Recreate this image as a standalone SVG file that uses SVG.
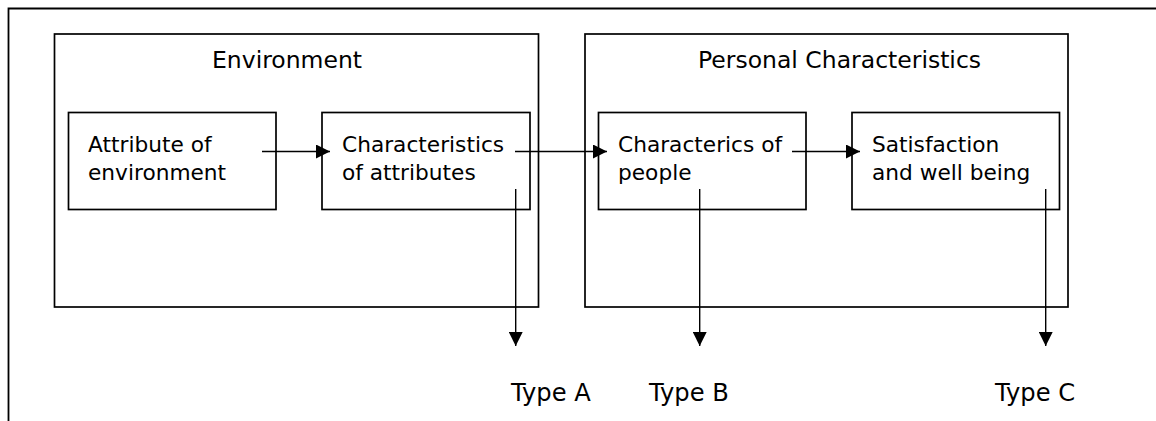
<svg xmlns="http://www.w3.org/2000/svg" width="1156" height="421" viewBox="0 0 1156 421">
  <style>
    .box { fill: none; stroke: #000; stroke-width: 1.7; }
    .frame { fill: none; stroke: #000; stroke-width: 1.8; }
    .link { fill: none; stroke: #000; stroke-width: 1.4; }
    .lbl { font-family: "DejaVu Sans", sans-serif; font-size: 21.7px; fill: #000; }
    .ttl { font-family: "DejaVu Sans", sans-serif; font-size: 23.5px; fill: #000; }
    .typ { font-family: "DejaVu Sans", sans-serif; font-size: 24.2px; fill: #000; }
  </style>
  <defs>
    <marker id="head" markerWidth="14" markerHeight="14" viewBox="0 0 14 14" refX="14" refY="7" orient="auto" markerUnits="userSpaceOnUse">
      <path d="M0,0 L14,7 L0,14 Z" fill="#000"/>
    </marker>
  </defs>
  <rect width="1156" height="421" fill="#fff"/>

  <!-- outer frame: top and left edges only -->
  <path class="frame" d="M8.5,421 V8.5 H1156"/>

  <g id="environment">
    <rect class="box" x="54.5" y="34" width="484" height="273"/>
    <text class="ttl" x="212" y="68">Environment</text>
  </g>

  <g id="personal-characteristics">
    <rect class="box" x="585" y="34" width="483" height="273"/>
    <text class="ttl" x="698" y="68">Personal Characteristics</text>
  </g>

  <g id="attribute-of-environment">
    <rect class="box" x="68.5" y="112.5" width="207.5" height="97"/>
    <text class="lbl" x="88" y="152">Attribute of</text>
    <text class="lbl" x="88" y="180">environment</text>
  </g>

  <g id="characteristics-of-attributes">
    <rect class="box" x="322" y="112.5" width="208" height="97"/>
    <text class="lbl" x="342" y="152">Characteristics</text>
    <text class="lbl" x="342" y="180">of attributes</text>
  </g>

  <g id="characterics-of-people">
    <rect class="box" x="598.5" y="112.5" width="207.5" height="97"/>
    <text class="lbl" x="618" y="152">Characterics of</text>
    <text class="lbl" x="618" y="180">people</text>
  </g>

  <g id="satisfaction">
    <rect class="box" x="852" y="112.5" width="207.5" height="97"/>
    <text class="lbl" x="872" y="152">Satisfaction</text>
    <text class="lbl" x="872" y="180">and well being</text>
  </g>

  <g id="type-a"><text class="typ" x="511" y="401">Type A</text></g>
  <g id="type-b"><text class="typ" x="649" y="401">Type B</text></g>
  <g id="type-c"><text class="typ" x="995" y="401">Type C</text></g>

  <g id="connectors">
    <line class="link" x1="262" y1="151.5" x2="330" y2="151.5" marker-end="url(#head)"/>
    <line class="link" x1="515" y1="151.5" x2="607" y2="151.5" marker-end="url(#head)"/>
    <line class="link" x1="792" y1="151.5" x2="860" y2="151.5" marker-end="url(#head)"/>
    <line class="link" x1="515.7" y1="189" x2="515.7" y2="346" marker-end="url(#head)"/>
    <line class="link" x1="699.7" y1="189" x2="699.7" y2="346" marker-end="url(#head)"/>
    <line class="link" x1="1045.7" y1="189" x2="1045.7" y2="346" marker-end="url(#head)"/>
  </g>
</svg>
